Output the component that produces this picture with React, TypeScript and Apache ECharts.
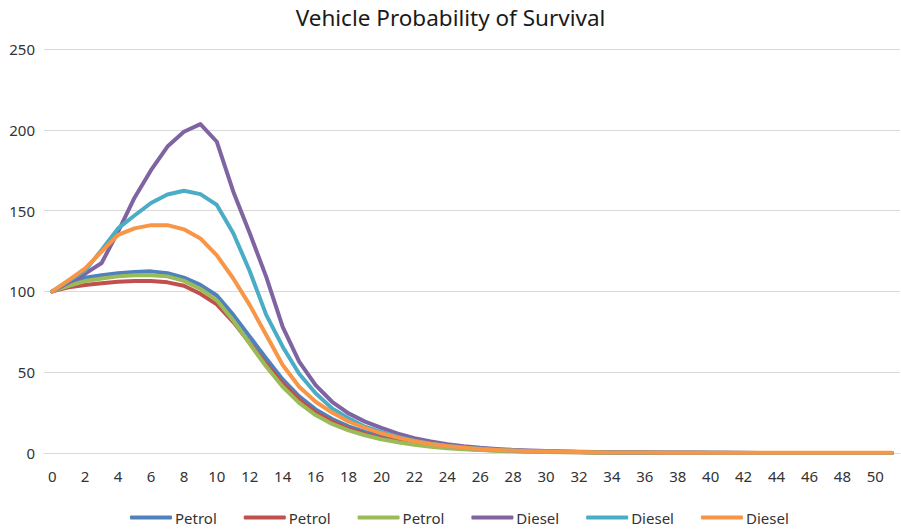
import React, { useEffect, useRef } from "react";
import * as echarts from "echarts";

const categories: string[] = [];
for (let i = 0; i <= 51; i++) categories.push(String(i));

const petrol1 = [100,104.5,108.5,110,111.2,112,112.4,111.2,108.5,104,97.5,85.5,72,58.5,45.5,35,27,21,16.5,13,10.5,8.3,6.5,5.1,4,3.1,2.4,1.9,1.5,1.2,0.9,0.7,0.6,0.5,0.4,0.3,0.25,0.2,0.17,0.14,0.12,0.1,0.08,0.07,0.06,0.05,0.04,0.04,0.03,0.03,0.02,0.02];
const petrol2 = [100,102.5,104,105,106,106.4,106.4,105.6,103.5,98.5,92,81,68,55,43,33,25,19.5,15,11.8,9.2,7.2,5.6,4.4,3.4,2.6,2,1.6,1.2,0.95,0.75,0.6,0.45,0.35,0.28,0.22,0.18,0.14,0.11,0.09,0.07,0.06,0.05,0.04,0.03,0.03,0.02,0.02,0.02,0.01,0.01,0.01];
const petrol3 = [100,103.5,106.4,108,109.3,110,110,109.3,106.5,101.5,94.5,82,67.5,53.5,41,31,23.5,18,14,11,8.5,6.6,5.1,3.9,3,2.3,1.8,1.4,1.1,0.85,0.65,0.5,0.4,0.3,0.24,0.19,0.15,0.12,0.1,0.08,0.06,0.05,0.04,0.03,0.03,0.02,0.02,0.02,0.01,0.01,0.01,0.01];
const diesel1 = [100,105.5,111,117.6,137,158,175,189.6,198.8,203.5,192.6,161.7,136,109,78,56.5,42,31.7,24.5,19.4,15.5,12,9.2,7.1,5.5,4.2,3.2,2.5,1.9,1.5,1.2,0.9,0.7,0.55,0.45,0.35,0.28,0.22,0.18,0.14,0.11,0.09,0.07,0.06,0.05,0.04,0.03,0.03,0.02,0.02,0.02,0.01];
const diesel2 = [100,106.5,113,125.6,139,147,154.7,160,162.3,160.2,153.5,136,112.5,85.5,65.8,49,37,27.6,21.5,16.3,13,10,7.6,5.8,4.4,3.4,2.6,2,1.5,1.15,0.9,0.7,0.55,0.42,0.33,0.26,0.2,0.16,0.13,0.1,0.08,0.06,0.05,0.04,0.03,0.03,0.02,0.02,0.02,0.01,0.01,0.01];
const diesel3 = [100,107,114.3,124.6,135,139,141,141,138.4,132.8,122.3,108,91.5,73,54.5,41,31.7,25,19.5,15.5,12.2,9.5,7.3,5.6,4.3,3.3,2.5,1.9,1.5,1.15,0.9,0.7,0.55,0.45,0.36,0.3,0.25,0.2,0.17,0.15,0.13,0.12,0.11,0.1,0.1,0.09,0.09,0.08,0.08,0.08,0.08,0.08];

const seriesNames = ["Petrol 1", "Petrol 2", "Petrol 3", "Diesel 1", "Diesel 2", "Diesel 3"];
const seriesData = [petrol1, petrol2, petrol3, diesel1, diesel2, diesel3];
const colors = ["#4F81BD", "#C0504D", "#9BBB59", "#8064A2", "#4BACC6", "#F79646"];
const yTicks = { min: 0, max: 250, interval: 50 };

const FONT = "'Noto Sans', sans-serif";

export default function App() {
  const ref = useRef<HTMLDivElement>(null);
  useEffect(() => {
    document.body.style.margin = "0";
    if (!ref.current) return;
    const chart = echarts.init(ref.current, undefined, { renderer: "svg" });
    chart.setOption({
      animation: false,
      color: colors,
      textStyle: { fontFamily: FONT },
      title: {
        text: "Vehicle Probability of Survival",
        left: "center",
        top: 1,
        textStyle: { fontFamily: FONT, fontSize: 22.5, fontWeight: "normal", color: "#1a1a1a" },
      },
      legend: {
        data: seriesNames,
        left: 125,
        top: 505,
        icon: "roundRect",
        itemWidth: 42,
        itemHeight: 4,
        itemGap: 27,
        formatter: (name: string) => name.replace(/ \d$/, ""),
        textStyle: { fontFamily: FONT, fontSize: 15, color: "#333", padding: [0, 0, 0, -2] },
      },
      grid: { left: 44, right: 1, top: 49, bottom: 79, containLabel: false },
      xAxis: {
        type: "category",
        data: categories,
        boundaryGap: true,
        axisLine: { show: true, lineStyle: { color: "#D9D9D9", width: 1 } },
        axisTick: { show: false },
        axisLabel: { interval: 1, margin: 15, fontSize: 15, color: "#333", fontFamily: FONT },
      },
      yAxis: {
        type: "value",
        min: yTicks.min,
        max: yTicks.max,
        interval: yTicks.interval,
        axisLine: { show: false },
        axisTick: { show: false },
        axisLabel: { margin: 9, fontSize: 15, color: "#333", fontFamily: FONT },
        splitLine: { lineStyle: { color: "#D9D9D9", width: 1 } },
      },
      series: seriesNames.map((name, i) => ({
        name,
        type: "line",
        data: seriesData[i],
        symbol: "none",
        smooth: false,
        lineStyle: { width: 4, color: colors[i], cap: "round", join: "round" },
        itemStyle: { color: colors[i] },
      })),
    });
    return () => chart.dispose();
  }, []);
  return <div ref={ref} style={{ width: 901, height: 532 }} />;
}
